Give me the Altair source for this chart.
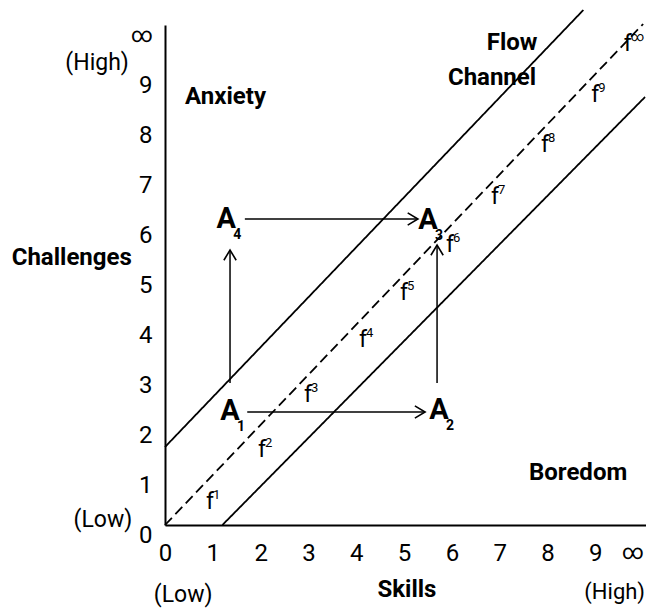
import altair as alt
import pandas as pd

# ---- data ----
x_ticks = list(range(11))
y_ticks = list(range(11))

line_name = ["upper", "upper", "flow", "flow", "lower", "lower"]
line_style = ["solid", "solid", "dashed", "dashed", "solid", "solid"]
line_x = [0.0, 8.75, 0.0, 10.0, 1.2, 10.04]
line_y = [1.56, 10.3, 0.0, 10.02, 0.0, 8.56]

arrow_x = [1.72, 1.67, 1.36, 5.69]
arrow_y = [2.26, 6.12, 2.84, 2.84]
arrow_x2 = [5.44, 5.29, 1.36, 5.69]
arrow_y2 = [2.26, 6.12, 5.5, 5.6]
arrow_angle = [0, 0, 270, 270]

a_main = ["A", "A", "A", "A"]
a_sub = ["1", "2", "3", "4"]
a_x = [1.36, 5.73, 5.5, 1.28]
a_y = [2.28, 2.3, 6.1, 6.12]

f_sup = ["1", "2", "3", "4", "5", "6", "7", "8", "9", "∞"]
f_x = [0.94, 2.03, 2.99, 4.14, 5.0, 5.96, 6.9, 7.95, 9.0, 9.68]
f_y = [0.46, 1.5, 2.6, 3.7, 4.64, 5.6, 6.56, 7.6, 8.6, 9.62]

bold_text = ["Flow", "Channel", "Boredom", "Challenges", "Skills"]
bold_x = [7.26, 6.84, 8.64, -1.95, 5.06]
bold_y = [9.64, 8.94, 1.04, 5.34, -1.3]

left_text = ["Anxiety"]
left_x = [0.42]
left_y = [8.56]

reg_text = ["(High)", "(Low)", "(Low)"]
reg_x = [-1.42, -1.30, 0.38]
reg_y = [9.24, 0.1, -1.4]

right_text = ["(High)"]
right_x = [10.04]
right_y = [-1.34]

FONT = "Roboto, Liberation Sans, sans-serif"

lines_df = pd.DataFrame({"name": line_name, "style": line_style, "x": line_x, "y": line_y})
arrows_df = pd.DataFrame({"x": arrow_x, "y": arrow_y, "x2": arrow_x2, "y2": arrow_y2})
heads_df = pd.DataFrame({"x": arrow_x2, "y": arrow_y2, "angle": arrow_angle})
a_df = pd.DataFrame({"main": a_main, "sub": a_sub, "x": a_x, "y": a_y})
f_df = pd.DataFrame({"sup": f_sup, "x": f_x, "y": f_y})
bold_df = pd.DataFrame({"t": bold_text, "x": bold_x, "y": bold_y})
left_df = pd.DataFrame({"t": left_text, "x": left_x, "y": left_y})
reg_df = pd.DataFrame({"t": reg_text, "x": reg_x, "y": reg_y})
right_df = pd.DataFrame({"t": right_text, "x": right_x, "y": right_y})

xscale = alt.Scale(domain=[0, 10.06], nice=False, zero=False)
yscale = alt.Scale(domain=[0, 10], nice=False, zero=False)

inf_size = {"condition": {"test": "datum.value == 10", "value": 21}, "value": 24}
inf_align = {"condition": {"test": "datum.value == 10", "value": "right"}, "value": "center"}

xaxis = alt.Axis(values=x_ticks, labelExpr="datum.value == 10 ? '∞' : datum.label",
                 ticks=False, grid=False, domainColor="black", domainWidth=2,
                 labelFont=FONT, labelFontSize=inf_size, labelAlign=inf_align,
                 labelColor="black", labelPadding=16,
                 labelFlush=False, labelOverlap=False, title=None)
yaxis = alt.Axis(values=y_ticks, labelExpr="datum.value == 10 ? '∞' : datum.label",
                 ticks=False, grid=False, domainColor="black", domainWidth=2,
                 labelFont=FONT, labelFontSize=inf_size, labelColor="black", labelPadding=13,
                 labelOffset=10, labelFlush=False, labelOverlap=False, title=None)

X = lambda f="x": alt.X(f + ":Q", title=None)
Y = lambda f="y": alt.Y(f + ":Q", title=None)

lines = alt.Chart(lines_df).mark_line(color="black", strokeWidth=1.8).encode(
    x=alt.X("x:Q", scale=xscale, axis=xaxis, title=None),
    y=alt.Y("y:Q", scale=yscale, axis=yaxis, title=None),
    detail="name:N",
    strokeDash=alt.StrokeDash("style:N", scale=alt.Scale(domain=["solid", "dashed"],
                                                          range=[[1, 0], [10, 5]]), legend=None),
)

arrows = alt.Chart(arrows_df).mark_rule(color="black", strokeWidth=1.5).encode(
    x=X(), y=Y(), x2="x2:Q", y2="y2:Q"
)

heads = alt.Chart(heads_df).mark_point(
    shape="M -1 -0.6 L 0 0 L -1 0.6", filled=False, stroke="black", strokeWidth=1.6,
    opacity=1, size=420
).encode(x=X(), y=Y(), angle=alt.Angle("angle:Q", scale=None))

a_main_t = alt.Chart(a_df).mark_text(font=FONT, fontSize=29, fontWeight="bold", color="black",
                                     align="center", baseline="middle").encode(
    x=X(), y=Y(), text="main:N")
a_sub_t = alt.Chart(a_df).mark_text(font=FONT, fontSize=14, fontWeight="bold", color="black",
                                    align="center", baseline="middle", dx=11, dy=16).encode(
    x=X(), y=Y(), text="sub:N")

f_main_t = alt.Chart(f_df).mark_text(font=FONT, fontSize=23, color="black",
                                     align="center", baseline="middle", text="f").encode(
    x=X(), y=Y())
f_sup_t = alt.Chart(f_df).mark_text(font=FONT, fontSize=13, color="black",
                                    align="left", baseline="middle", dx=3, dy=-7).encode(
    x=X(), y=Y(), text="sup:N")

bold_t = alt.Chart(bold_df).mark_text(font=FONT, fontSize=24, fontWeight="bold", color="black",
                                      align="center", baseline="middle").encode(
    x=X(), y=Y(), text="t:N")
left_t = alt.Chart(left_df).mark_text(font=FONT, fontSize=24, fontWeight="bold", color="black",
                                      align="left", baseline="middle").encode(
    x=X(), y=Y(), text="t:N")
reg_t = alt.Chart(reg_df).mark_text(font=FONT, fontSize=23, color="black",
                                    align="center", baseline="middle").encode(
    x=X(), y=Y(), text="t:N")
right_t = alt.Chart(right_df).mark_text(font=FONT, fontSize=22, color="black",
                                        align="right", baseline="middle").encode(
    x=X(), y=Y(), text="t:N")

chart = alt.layer(lines, arrows, heads, a_main_t, a_sub_t, f_main_t, f_sup_t,
                  bold_t, left_t, reg_t, right_t).properties(
    width=481, height=500,
    autosize=alt.AutoSizeParams(type="none"),
    padding={"left": 157, "top": 17, "right": 0, "bottom": 85},
    background="white",
).configure_view(stroke=None)

chart.save("out.html", embed_options={"renderer": "svg", "actions": False})
